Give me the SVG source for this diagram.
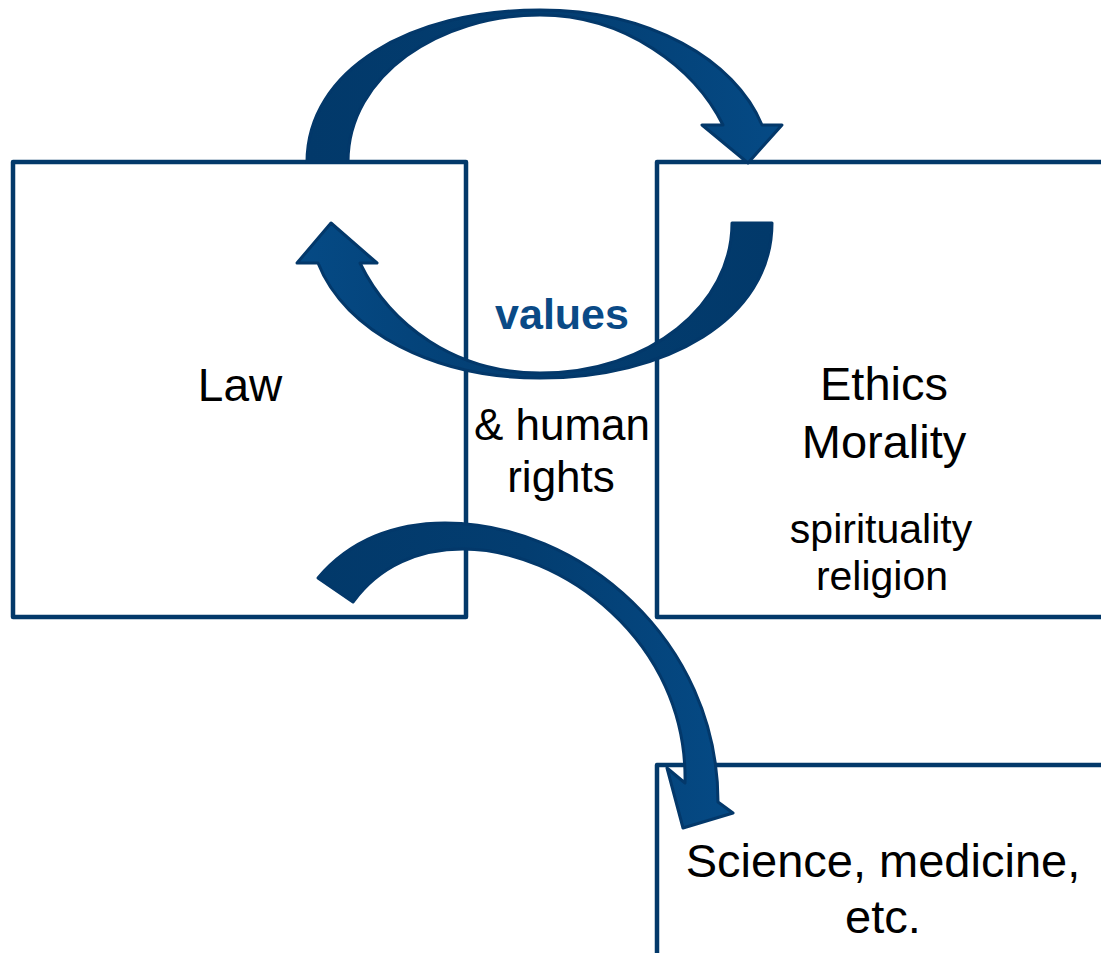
<svg xmlns="http://www.w3.org/2000/svg" width="1101" height="953" viewBox="0 0 1101 953">
<defs>
<style>
.box{fill:#ffffff;stroke:#03396a;stroke-width:4.5;stroke-linejoin:round}
.arrow{stroke:#03386a;stroke-width:3;stroke-linejoin:round}
.t{font-family:"Liberation Sans",Arial,sans-serif;fill:#000000;text-anchor:middle}
.v{font-family:"Liberation Sans",Arial,sans-serif;fill:#0a4a86;text-anchor:middle;font-weight:bold}
</style>
<linearGradient id="gTop" gradientUnits="userSpaceOnUse" x1="307" y1="0" x2="782" y2="0">
<stop offset="0" stop-color="#02396a"/><stop offset="0.5" stop-color="#033d70"/><stop offset="1" stop-color="#054a85"/>
</linearGradient>
<linearGradient id="gMid" gradientUnits="userSpaceOnUse" x1="297" y1="0" x2="772" y2="0">
<stop offset="0" stop-color="#054a85"/><stop offset="0.5" stop-color="#033d70"/><stop offset="1" stop-color="#02396a"/>
</linearGradient>
<linearGradient id="gBot" gradientUnits="userSpaceOnUse" x1="318" y1="0" x2="733" y2="0">
<stop offset="0" stop-color="#02396a"/><stop offset="0.5" stop-color="#033d70"/><stop offset="1" stop-color="#054a85"/>
</linearGradient>
</defs>
<rect width="1101" height="953" fill="#ffffff"/>
<g id="law">
<rect class="box" x="13" y="162" width="453" height="455"/>
<text class="t" x="240" y="401" font-size="46">Law</text>
</g>
<g id="ethics">
<rect class="box" x="657" y="162" width="460" height="455"/>
<text class="t" x="884" y="400" font-size="47">Ethics</text>
<text class="t" x="884" y="458" font-size="47">Morality</text>
<text class="t" x="881" y="543" font-size="41">spirituality</text>
<text class="t" x="882" y="590" font-size="41">religion</text>
</g>
<g id="science">
<rect class="box" x="657" y="765" width="460" height="200"/>
<text class="t" x="883" y="877" font-size="47">Science, medicine,</text>
<text class="t" x="883" y="933" font-size="47">etc.</text>
</g>
<g id="connectors">
<path class="arrow" fill="url(#gTop)" d="M307,162 C307,70 410,10 540,10 C650,10 735,60 762,125 L782,125 L748,163 L702,125 L723,125 C695,68 625,15 540,15 C440,15 348,75 348,162 Z"/>
<path class="arrow" fill="url(#gMid)" d="M772,223 C772,320 665,378 540,378 C435,378 345,332 318,263 L297,263 L331,223 L377,263 L360,263 C390,325 455,373 540,373 C650,373 732,305 732,223 Z"/>
<path class="arrow" fill="url(#gBot)" d="M318,578 C350,540 395,523 445,523 C580,523 718,640 718,802 L733,813 L683,828 L667,768 L685,783 C688,640 560,549 463,549 C420,549 380,565 353,602 Z"/>
</g>
<g id="label-values">
<text class="v" x="562" y="329" font-size="43">values</text>
<text class="t" x="562" y="440" font-size="44">&amp; human</text>
<text class="t" x="561" y="492" font-size="44">rights</text>
</g>
</svg>
